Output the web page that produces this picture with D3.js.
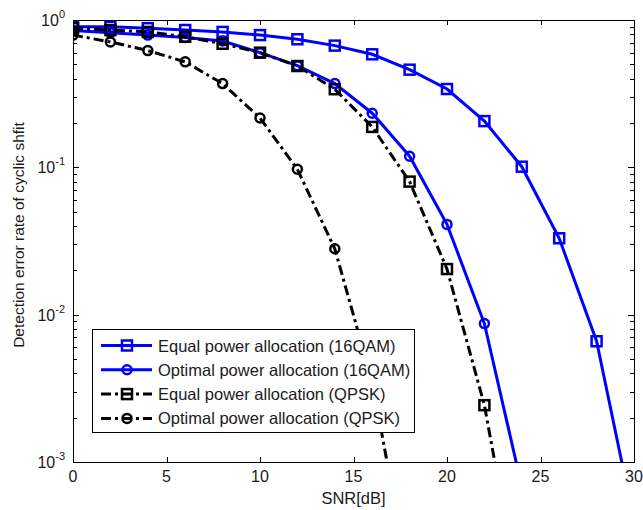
<!DOCTYPE html>
<html>
<head>
<meta charset="utf-8">
<script src="https://cdn.jsdelivr.net/npm/d3@7"></script>
<style>
  body { margin: 0; background: #fff; }
  text { font-family: "Liberation Sans", Arial, sans-serif; fill: #1a1a1a; }
</style>
</head>
<body>
<div id="chart"></div>
<script>
// SNR values (dB)
const snr = [0, 2, 4, 6, 8, 10, 12, 14, 16, 18, 20, 22, 24, 26, 28, 30];
// detection error rates
const equal16qam   = [0.9, 0.9, 0.88, 0.855, 0.83, 0.79, 0.74, 0.67, 0.585, 0.46, 0.34, 0.206, 0.101, 0.033, 0.0066, 0.0004];
const optimal16qam = [0.85, 0.82, 0.79, 0.76, 0.72, 0.6, 0.49, 0.37, 0.233, 0.119, 0.041, 0.0087, 0.00068];
const equalQpsk    = [0.88, 0.855, 0.83, 0.77, 0.69, 0.6, 0.487, 0.339, 0.188, 0.08, 0.0204, 0.00243, 0.0001];
const optimalQpsk  = [0.79, 0.71, 0.62, 0.52, 0.37, 0.216, 0.097, 0.028, 0.0035, 0.00015];

const legendLabels = [
  "Equal power allocation (16QAM)",
  "Optimal power allocation (16QAM)",
  "Equal power allocation (QPSK)",
  "Optimal power allocation (QPSK)"
];
const xTicks = [0, 5, 10, 15, 20, 25, 30];
const yTicks = [1e-3, 1e-2, 1e-1, 1];

const series = [
  {vals: equal16qam, color: "#0000ff", marker: "square", dash: null},
  {vals: optimal16qam, color: "#0000ff", marker: "circle", dash: null},
  {vals: equalQpsk, color: "#000", marker: "square", dash: "10,4,3,4"},
  {vals: optimalQpsk, color: "#000", marker: "circle", dash: "10,4,3,4"}
];

let width = 643, height = 510;
let margin = {top: 20, right: 9, bottom: 48, left: 73};
let w = width - margin.left - margin.right,
    h = height - margin.top - margin.bottom;

let svg = d3.select("#chart").append("svg")
    .attr("width", width)
    .attr("height", height)
  .append("g")
    .attr("transform", "translate(" + margin.left + "," + margin.top + ")");

let x = d3.scaleLinear().domain([0, 30]).range([0, w]);
let y = d3.scaleLog().domain([1e-3, 1]).range([h, 0]);

svg.append("clipPath").attr("id", "clip")
  .append("rect").attr("width", w).attr("height", h);

// minor ticks for the log axis
let minor = [];
for (let e = -3; e < 0; e++) {
  for (let k = 2; k <= 9; k++) minor.push(k * Math.pow(10, e));
}

let ticksG = svg.append("g").attr("stroke", "#000").attr("stroke-width", 1);
xTicks.forEach(t => {
  let px = Math.round(x(t)) + 0.5;
  ticksG.append("line").attr("x1", px).attr("x2", px).attr("y1", h).attr("y2", h - 5);
  ticksG.append("line").attr("x1", px).attr("x2", px).attr("y1", 0).attr("y2", 5);
});
yTicks.forEach(t => {
  let py = Math.round(y(t)) + 0.5;
  ticksG.append("line").attr("x1", 0).attr("x2", 6).attr("y1", py).attr("y2", py);
  ticksG.append("line").attr("x1", w).attr("x2", w - 6).attr("y1", py).attr("y2", py);
});
minor.forEach(t => {
  let py = Math.round(y(t)) + 0.5;
  ticksG.append("line").attr("x1", 0).attr("x2", 4).attr("y1", py).attr("y2", py);
  ticksG.append("line").attr("x1", w).attr("x2", w - 4).attr("y1", py).attr("y2", py);
});

// tick labels
svg.selectAll(".xlab").data(xTicks).enter().append("text")
  .attr("x", d => x(d))
  .attr("y", h + 20)
  .attr("text-anchor", "middle")
  .style("font-size", "16px")
  .text(d => d);

yTicks.forEach(t => {
  let e = Math.round(Math.log10(t));
  let txt = svg.append("text")
    .attr("x", -8)
    .attr("y", y(t) + 6)
    .attr("text-anchor", "end")
    .style("font-size", "16px");
  txt.append("tspan").text("10");
  txt.append("tspan").attr("dy", -8).style("font-size", "11px").text(e);
});

svg.append("text")
  .attr("x", w / 2)
  .attr("y", h + 42)
  .attr("text-anchor", "middle")
  .style("font-size", "16.5px")
  .text("SNR[dB]");

svg.append("text")
  .attr("transform", "translate(" + (-49) + "," + (h / 2 - 6) + ") rotate(-90)")
  .attr("text-anchor", "middle")
  .style("font-size", "15.5px")
  .text("Detection error rate of cyclic shfit");

// lines
let line = d3.line()
  .x((d, i) => x(snr[i]))
  .y(d => y(d));

let plot = svg.append("g").attr("clip-path", "url(#clip)");

function drawMarker(g, type, cx, cy, color) {
  if (type === "square") {
    g.append("rect")
      .attr("x", cx - 5).attr("y", cy - 5)
      .attr("width", 10).attr("height", 10)
      .attr("fill", "none").attr("stroke", color).attr("stroke-width", 2.5);
  } else {
    g.append("circle")
      .attr("cx", cx).attr("cy", cy).attr("r", 4.5)
      .attr("fill", "none").attr("stroke", color).attr("stroke-width", 2.5);
  }
}

series.forEach(s => {
  plot.append("path")
    .attr("d", line(s.vals))
    .attr("fill", "none")
    .attr("stroke", s.color)
    .attr("stroke-width", 3)
    .attr("stroke-dasharray", s.dash);
  s.vals.forEach((v, i) => {
    drawMarker(plot, s.marker, x(snr[i]), y(v), s.color);
  });
});

// box
svg.append("rect")
  .attr("x", 0.5).attr("y", 0.5)
  .attr("width", w).attr("height", h)
  .attr("fill", "none").attr("stroke", "#000").attr("stroke-width", 1);

// legend
let lg = svg.append("g").attr("transform", "translate(" + (19) + "," + (309) + ")");
lg.append("rect")
  .attr("x", 0.5).attr("y", 0.5)
  .attr("width", 322).attr("height", 103)
  .attr("fill", "#fff").attr("stroke", "#000").attr("stroke-width", 1);

legendLabels.forEach((lab, i) => {
  let s = series[i];
  let cy = 16.5 + i * 24.3;
  lg.append("line")
    .attr("x1", 9).attr("x2", 60)
    .attr("y1", cy).attr("y2", cy)
    .attr("stroke", s.color).attr("stroke-width", 3)
    .attr("stroke-dasharray", s.dash);
  drawMarker(lg, s.marker, 35, cy, s.color);
  lg.append("text")
    .attr("x", 66).attr("y", cy + 6)
    .style("font-size", "16.5px")
    .text(lab);
});
</script>
</body>
</html>
